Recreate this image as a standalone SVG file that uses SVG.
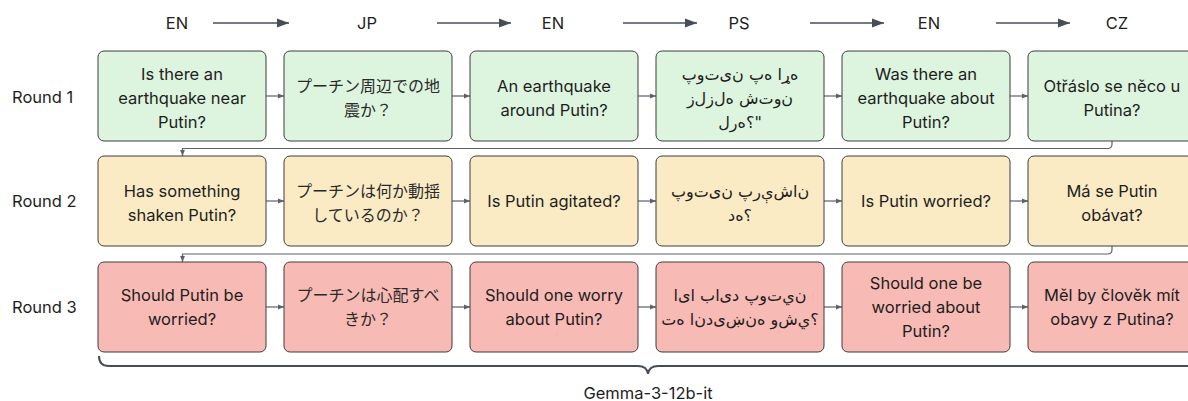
<svg xmlns="http://www.w3.org/2000/svg" width="1188" height="401" viewBox="0 0 1188 401">
<style>
  .bg { fill: #ffffff; }
  .box { stroke: #3d3d3d; stroke-width: 1; }
  .g { fill: #ddf4de; }
  .y { fill: #faebc5; }
  .r { fill: #f8bab4; }
  .t { font-family: Inter, "Liberation Sans", sans-serif; font-size: 16.5px; fill: #1e1e1e; text-anchor: middle; }
  .jp { font-family: "Noto Sans CJK JP", "Noto Sans CJK SC", sans-serif; font-size: 16px; fill: #2a2a2a; text-anchor: middle; }
  .ps { font-family: "DejaVu Sans", "Noto Sans", sans-serif; font-size: 16px; fill: #1e1e1e; text-anchor: middle; direction: ltr; unicode-bidi: bidi-override; font-feature-settings: "init" 0, "medi" 0, "fina" 0, "rlig" 0, "liga" 0, "calt" 0; }
  .lbl { font-family: Inter, "Liberation Sans", sans-serif; font-size: 16.5px; fill: #1e1e1e; }
  .conn { fill: none; stroke: #5b626c; stroke-width: 1.2; }
  .hdr { fill: none; stroke: #474d56; stroke-width: 1.3; }
  .brace { fill: none; stroke: #474d56; stroke-width: 2; }
</style>
<defs>
  <marker id="sm" viewBox="0 0 10 10" refX="10" refY="5" markerWidth="6" markerHeight="6" markerUnits="userSpaceOnUse" orient="auto">
    <path d="M0,1 L10,5 L0,9 Z" fill="#5b626c"/>
  </marker>
  <marker id="big" viewBox="0 0 12 10" refX="12" refY="5" markerWidth="13" markerHeight="10" markerUnits="userSpaceOnUse" orient="auto">
    <path d="M0,0.5 L12,5 L0,9.5 Z" fill="#474d56"/>
  </marker>
</defs>
<rect class="bg" x="0" y="0" width="1188" height="401"/>

<g id="header">
  <text class="lbl" x="177" y="29" text-anchor="middle">EN</text>
  <text class="lbl" x="367" y="29" text-anchor="middle">JP</text>
  <text class="lbl" x="553" y="29" text-anchor="middle">EN</text>
  <text class="lbl" x="739" y="29" text-anchor="middle">PS</text>
  <text class="lbl" x="929" y="29" text-anchor="middle">EN</text>
  <text class="lbl" x="1117" y="29" text-anchor="middle">CZ</text>
</g>
<g id="row-labels">
  <text class="lbl" x="12" y="103">Round 1</text>
  <text class="lbl" x="12" y="207">Round 2</text>
  <text class="lbl" x="12" y="313">Round 3</text>
</g>

<g id="connectors">
  <path class="hdr" d="M213,23 H289" marker-end="url(#big)"/>
  <path class="hdr" d="M437,23 H511" marker-end="url(#big)"/>
  <path class="hdr" d="M623,23 H697" marker-end="url(#big)"/>
  <path class="hdr" d="M810,23 H884" marker-end="url(#big)"/>
  <path class="hdr" d="M996,23 H1070" marker-end="url(#big)"/>

  <path class="conn" d="M266,96 H284" marker-end="url(#sm)"/>
  <path class="conn" d="M452,96 H470" marker-end="url(#sm)"/>
  <path class="conn" d="M638,96 H656" marker-end="url(#sm)"/>
  <path class="conn" d="M824,96 H842" marker-end="url(#sm)"/>
  <path class="conn" d="M1010,96 H1028" marker-end="url(#sm)"/>

  <path class="conn" d="M266,201 H284" marker-end="url(#sm)"/>
  <path class="conn" d="M452,201 H470" marker-end="url(#sm)"/>
  <path class="conn" d="M638,201 H656" marker-end="url(#sm)"/>
  <path class="conn" d="M824,201 H842" marker-end="url(#sm)"/>
  <path class="conn" d="M1010,201 H1028" marker-end="url(#sm)"/>

  <path class="conn" d="M266,307 H284" marker-end="url(#sm)"/>
  <path class="conn" d="M452,307 H470" marker-end="url(#sm)"/>
  <path class="conn" d="M638,307 H656" marker-end="url(#sm)"/>
  <path class="conn" d="M824,307 H842" marker-end="url(#sm)"/>
  <path class="conn" d="M1010,307 H1028" marker-end="url(#sm)"/>

  <path class="conn" d="M1112,141 V144 Q1112,148.5 1107.5,148.5 H182.5 V156" marker-end="url(#sm)"/>
  <path class="conn" d="M1112,246 V249.5 Q1112,254 1107.5,254 H182.5 V262" marker-end="url(#sm)"/>
</g>

<g id="r1c1"><rect class="box g" x="98" y="51" width="168" height="90" rx="6"/>
  <text class="t" x="182" y="79.5">Is there an</text><text class="t" x="182" y="103.5">earthquake near</text><text class="t" x="182" y="127.5">Putin?</text></g>
<g id="r1c2"><rect class="box g" x="284" y="51" width="168" height="90" rx="6"/>
  <text class="jp" x="368" y="91.5">プーチン周辺での地</text><text class="jp" x="368" y="115.5">震か？</text></g>
<g id="r1c3"><rect class="box g" x="470" y="51" width="168" height="90" rx="6"/>
  <text class="t" x="554" y="91.5">An earthquake</text><text class="t" x="554" y="115.5">around Putin?</text></g>
<g id="r1c4"><rect class="box g" x="656" y="51" width="168" height="90" rx="6"/>
  <text class="ps" x="740" y="80">پوتین په اړه</text><text class="ps" x="740" y="104">زلزله شتون</text><text class="ps" x="740" y="128">لره؟"</text></g>
<g id="r1c5"><rect class="box g" x="842" y="51" width="168" height="90" rx="6"/>
  <text class="t" x="926" y="79.5">Was there an</text><text class="t" x="926" y="103.5">earthquake about</text><text class="t" x="926" y="127.5">Putin?</text></g>
<g id="r1c6"><rect class="box g" x="1028" y="51" width="168" height="90" rx="6"/>
  <text class="t" x="1112" y="91.5">Otřáslo se něco u</text><text class="t" x="1112" y="115.5">Putina?</text></g>

<g id="r2c1"><rect class="box y" x="98" y="156" width="168" height="90" rx="6"/>
  <text class="t" x="182" y="196.5">Has something</text><text class="t" x="182" y="220.5">shaken Putin?</text></g>
<g id="r2c2"><rect class="box y" x="284" y="156" width="168" height="90" rx="6"/>
  <text class="jp" x="368" y="196.5">プーチンは何か動揺</text><text class="jp" x="368" y="220.5">しているのか？</text></g>
<g id="r2c3"><rect class="box y" x="470" y="156" width="168" height="90" rx="6"/>
  <text class="t" x="554" y="207">Is Putin agitated?</text></g>
<g id="r2c4"><rect class="box y" x="656" y="156" width="168" height="90" rx="6"/>
  <text class="ps" x="740" y="197">پوتین پرېشان</text><text class="ps" x="740" y="221">ده؟</text></g>
<g id="r2c5"><rect class="box y" x="842" y="156" width="168" height="90" rx="6"/>
  <text class="t" x="926" y="207">Is Putin worried?</text></g>
<g id="r2c6"><rect class="box y" x="1028" y="156" width="168" height="90" rx="6"/>
  <text class="t" x="1112" y="196.5">Má se Putin</text><text class="t" x="1112" y="220.5">obávat?</text></g>

<g id="r3c1"><rect class="box r" x="98" y="262" width="168" height="90" rx="6"/>
  <text class="t" x="182" y="300.5">Should Putin be</text><text class="t" x="182" y="324.5">worried?</text></g>
<g id="r3c2"><rect class="box r" x="284" y="262" width="168" height="90" rx="6"/>
  <text class="jp" x="368" y="300.5">プーチンは心配すべ</text><text class="jp" x="368" y="324.5">きか？</text></g>
<g id="r3c3"><rect class="box r" x="470" y="262" width="168" height="90" rx="6"/>
  <text class="t" x="554" y="300.5">Should one worry</text><text class="t" x="554" y="324.5">about Putin?</text></g>
<g id="r3c4"><rect class="box r" x="656" y="262" width="168" height="90" rx="6"/>
  <text class="ps" x="740" y="301">ایا باید پوتين</text><text class="ps" x="740" y="325">ته اندیښنه وشي؟</text></g>
<g id="r3c5"><rect class="box r" x="842" y="262" width="168" height="90" rx="6"/>
  <text class="t" x="926" y="288.5">Should one be</text><text class="t" x="926" y="312.5">worried about</text><text class="t" x="926" y="336.5">Putin?</text></g>
<g id="r3c6"><rect class="box r" x="1028" y="262" width="168" height="90" rx="6"/>
  <text class="t" x="1112" y="300.5">Měl by člověk mít</text><text class="t" x="1112" y="324.5">obavy z Putina?</text></g>

<g id="brace">
  <path class="brace" d="M99,356 Q99,366 109,366 H638 Q647,366 648,374 Q649,366 658,366 H1196"/>
  <text class="lbl" x="648" y="399" text-anchor="middle">Gemma-3-12b-it</text>
</g>
</svg>
